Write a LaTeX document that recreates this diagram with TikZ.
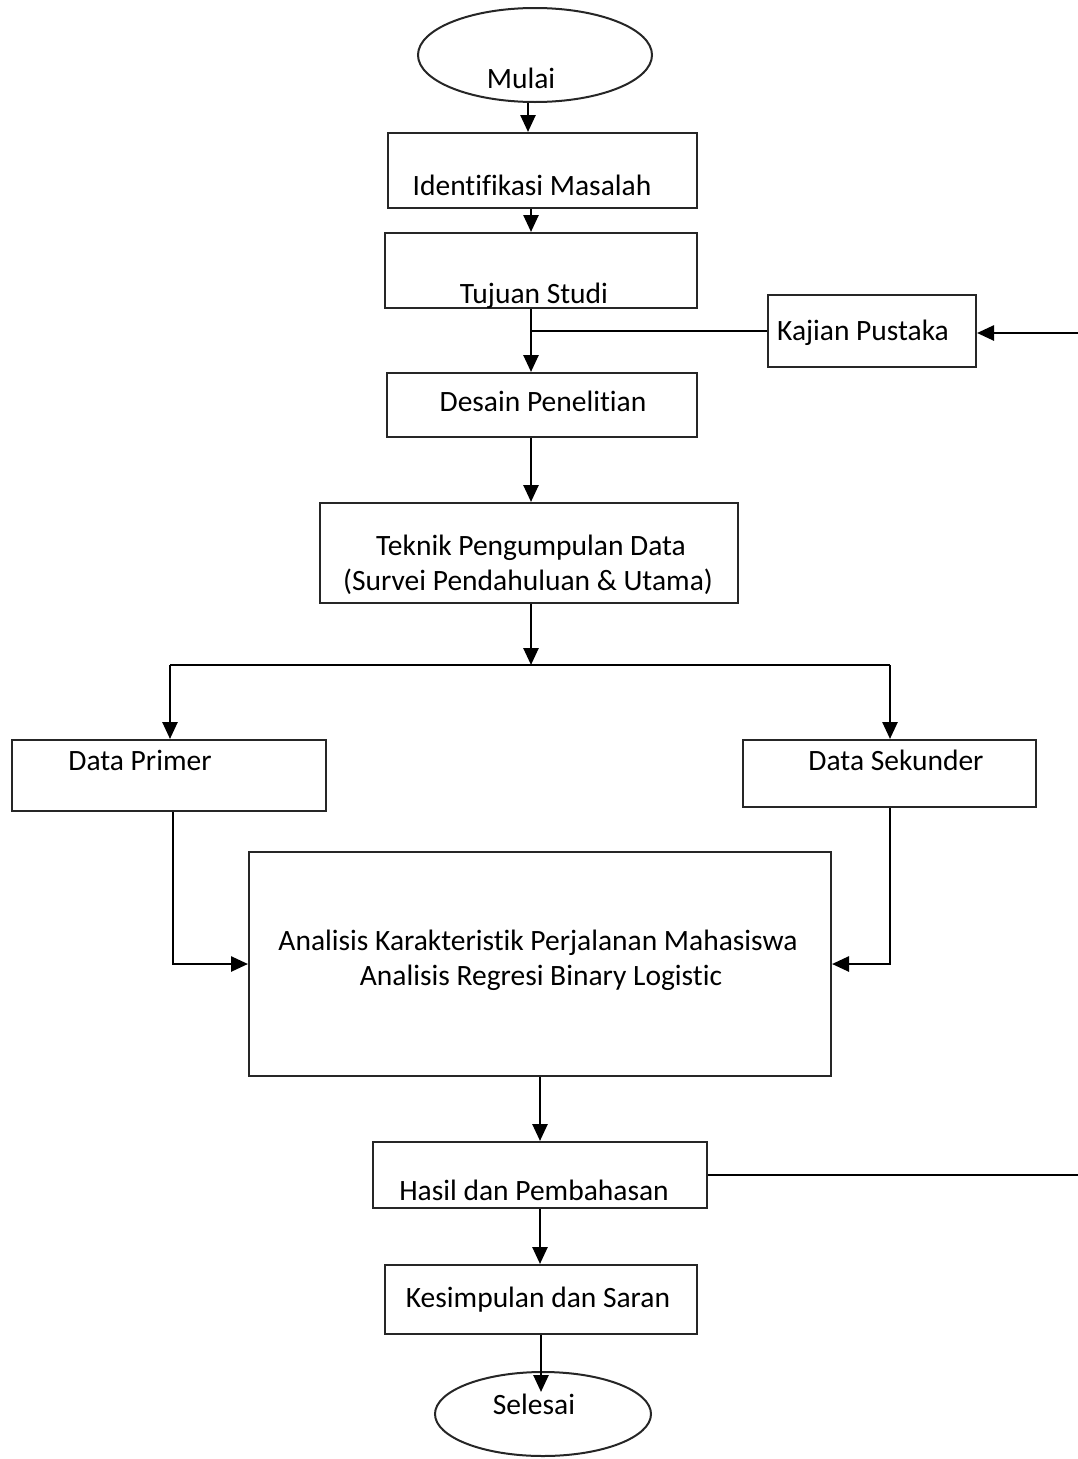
\documentclass[tikz,border=0pt]{standalone}
\usepackage{fontspec}
\setmainfont{Carlito}[Ligatures={NoCommon}]
\usetikzlibrary{arrows.meta,shapes.geometric}
\begin{document}
\begin{tikzpicture}[x=1pt,y=-1pt,
  box/.style={draw=black!85,line width=2pt,rectangle,inner sep=0pt},
  oval/.style={draw=black!85,line width=2pt,ellipse,inner sep=0pt},
  txt/.style={inner sep=0pt,font=\fontsize{29.5}{34}\selectfont,text height=20pt,text depth=7pt},
  arr/.style={line width=2.6pt,-{Triangle[length=17pt,width=15pt]}},
  ln/.style={line width=2.2pt}]
\useasboundingbox (0,0) rectangle (1078,1459);
% shapes
\node[oval,minimum width=234pt,minimum height=94pt] (mulai) at (535,55) {};
\node[box,minimum width=309pt,minimum height=75pt] (idm) at (542.5,170.5) {};
\node[box,minimum width=312pt,minimum height=75pt] (tuj) at (541,270.5) {};
\node[box,minimum width=208pt,minimum height=72pt] (kaj) at (872,331) {};
\node[box,minimum width=310pt,minimum height=64pt] (des) at (542,405) {};
\node[box,minimum width=418pt,minimum height=100pt] (tek) at (529,553) {};
\node[box,minimum width=314pt,minimum height=71pt] (dp) at (169,775.5) {};
\node[box,minimum width=293pt,minimum height=67pt] (ds) at (889.5,773.5) {};
\node[box,minimum width=582pt,minimum height=224pt] (ana) at (540,964) {};
\node[box,minimum width=334pt,minimum height=66pt] (has) at (540,1175) {};
\node[box,minimum width=312pt,minimum height=69pt] (kes) at (541,1299.5) {};
\node[oval,minimum width=216pt,minimum height=84pt] (sel) at (543,1414) {};
% texts
\node[txt] (tmulai) at (521,82) {Mulai};
\node[txt] (tidm) at (532,189) {Identifikasi Masalah};
\node[txt] (ttuj) at (534,297) {Tujuan Studi};
\node[txt] (tkaj) at (863,334) {Kajian Pustaka};
\node[txt] (tdes) at (543,405) {Desain Penelitian};
\node[txt] (ttek1) at (531,549) {Teknik Pengumpulan Data};
\node[txt] (ttek2) at (528,584) {(Survei Pendahuluan \& Utama)};
\node[txt] (tdp) at (140,764) {Data Primer};
\node[txt] (tds) at (896,764) {Data Sekunder};
\node[txt] (tana1) at (538,944) {Analisis Karakteristik Perjalanan Mahasiswa};
\node[txt] (tana2) at (541,979) {Analisis Regresi Binary Logistic};
\node[txt] (thas) at (534,1194) {Hasil dan Pembahasan};
\node[txt] (tkes) at (538,1301) {Kesimpulan dan Saran};
\node[txt] (tsel) at (534,1408) {Selesai};
% helper coordinates
\coordinate (xa) at (528,0);
\coordinate (xb) at (531,0);
\coordinate (xc) at (540,0);
\coordinate (xl) at (173,0);
\coordinate (xr) at (890,0);
\coordinate (jn) at (531,665);
\coordinate (jl) at (170,665);
\coordinate (jr) at (890,665);
\coordinate (el) at (1078,333);
\coordinate (eh) at (1078,1175);
\coordinate (sd) at (541,1392);
% connectors
\draw[arr] (xa |- mulai.south) -- (xa |- idm.north);
\draw[arr] (xb |- idm.south) -- (xb |- tuj.north);
\draw[arr] (xb |- tuj.south) -- (xb |- des.north);
\draw[ln] (kaj.west) -- (kaj.west -| xb);
\draw[arr] (el) -- (kaj.east |- el);
\draw[arr] (xb |- des.south) -- (xb |- tek.north);
\draw[arr] (xb |- tek.south) -- (jn);
\draw[ln] (jl) -- (jr);
\draw[arr] (jl) -- (jl |- dp.north);
\draw[arr] (jr) -- (jr |- ds.north);
\draw[arr] (xl |- dp.south) -- (xl |- ana.west) -- (ana.west);
\draw[arr] (xr |- ds.south) -- (xr |- ana.east) -- (ana.east);
\draw[arr] (xc |- ana.south) -- (xc |- has.north);
\draw[arr] (xc |- has.south) -- (xc |- kes.north);
\draw[arr] (sd |- kes.south) -- (sd);
\draw[ln] (has.east) -- (eh);
\end{tikzpicture}
\end{document}
